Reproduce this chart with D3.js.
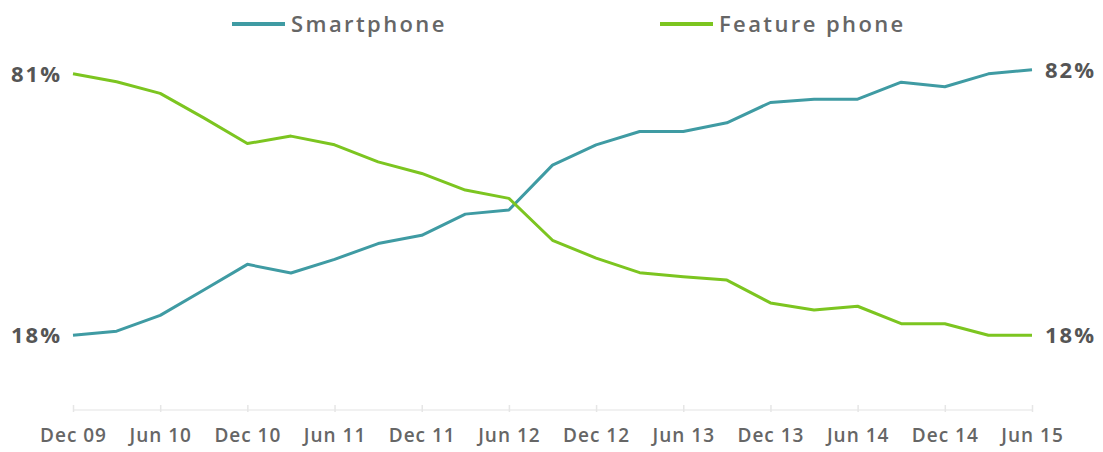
<!DOCTYPE html>
<html>
<head>
<meta charset="utf-8">
<script src="https://cdn.jsdelivr.net/npm/d3@7/dist/d3.min.js"></script>
<style>
  html, body { margin: 0; padding: 0; background: #fff; }
  svg { display: block; }
  text { font-family: "Open Sans", Lato, sans-serif; }
</style>
</head>
<body>
<svg id="chart" width="1103" height="452"></svg>
<script>
// Quarterly share of handsets (%), Dec 2009 – Jun 2015
const quarters = [
  "Dec 09","Mar 10","Jun 10","Sep 10","Dec 10","Mar 11","Jun 11","Sep 11",
  "Dec 11","Mar 12","Jun 12","Sep 12","Dec 12","Mar 13","Jun 13","Sep 13",
  "Dec 13","Mar 14","Jun 14","Sep 14","Dec 14","Mar 15","Jun 15"
];
const smartphone = [
  18, 19.0, 22.8, 28.9, 35.1, 33.0, 36.3, 40.1,
  42.1, 47.2, 48.2, 59.0, 63.9, 67.1, 67.1, 69.2,
  74.1, 74.9, 74.9, 79.0, 77.9, 81.0, 82
];
const featurePhone = [
  81, 79.1, 76.3, 70.4, 64.2, 66.0, 63.9, 59.8,
  57.0, 53.0, 51.0, 40.9, 36.6, 33.1, 32.1, 31.3,
  25.8, 24.1, 25.0, 20.8, 20.8, 18, 18
];
const tickLabels = [
  "Dec 09","Jun 10","Dec 10","Jun 11","Dec 11","Jun 12",
  "Dec 12","Jun 13","Dec 13","Jun 14","Dec 14","Jun 15"
];
const seriesNames = ["Smartphone", "Feature phone"];
const seriesColors = ["#3f9ba3", "#7cc520"];

const svg = d3.select("#chart");

const x = d3.scalePoint().domain(quarters).range([73, 1032]);
const y = d3.scaleLinear().domain([0, 100]).range([410, -5]);

// x axis: faint baseline with half-yearly ticks
const axis = svg.append("g")
  .attr("transform", "translate(0,410)")
  .call(d3.axisBottom(x).tickValues(tickLabels).tickSize(5).tickPadding(17));
axis.select(".domain").attr("stroke", "#ececec").attr("stroke-width", 1.5)
  .attr("d", `M${x(quarters[0])},0H${x(quarters[quarters.length - 1])}`);
axis.selectAll(".tick line").attr("stroke", "#e6e6e6").attr("stroke-width", 1.5)
  .attr("y1", -5).attr("y2", 2);
axis.selectAll(".tick text")
  .attr("fill", "#666")
  .attr("font-size", 19)
  .attr("font-weight", 600)
  .attr("letter-spacing", 1)
  .attr("font-family", "'Open Sans', Lato, sans-serif")
  .attr("dy", "0.55em");

// lines
const line = d3.line()
  .x((d, i) => x(quarters[i]))
  .y(d => y(d));

[smartphone, featurePhone].forEach((vals, k) => {
  svg.append("path")
    .datum(vals)
    .attr("fill", "none")
    .attr("stroke", seriesColors[k])
    .attr("stroke-width", 3)
    .attr("stroke-linejoin", "round")
    .attr("d", line);
});

// end-point value labels
const endLabels = [
  { v: featurePhone[0], side: "left" },
  { v: smartphone[0], side: "left" },
  { v: smartphone[smartphone.length - 1], side: "right" },
  { v: featurePhone[featurePhone.length - 1], side: "right" }
];
svg.append("g").selectAll("text")
  .data(endLabels)
  .join("text")
  .attr("x", d => d.side === "left" ? x(quarters[0]) - 11 : x(quarters[quarters.length - 1]) + 13)
  .attr("y", d => y(d.v))
  .attr("dy", "0.36em")
  .attr("text-anchor", d => d.side === "left" ? "end" : "start")
  .attr("fill", "#555")
  .attr("font-size", 22)
  .attr("font-weight", 700)
  .attr("letter-spacing", 2)
  .text(d => Math.round(d.v) + "%");

// legend
const legendX = [232, 660];
const legend = svg.append("g").selectAll("g")
  .data(seriesNames)
  .join("g")
  .attr("transform", (d, i) => `translate(${legendX[i]},24)`);
legend.append("line")
  .attr("x1", 0).attr("x2", 53)
  .attr("stroke", (d, i) => seriesColors[i])
  .attr("stroke-width", 4);
legend.append("text")
  .attr("x", 59)
  .attr("dy", "0.36em")
  .attr("fill", "#666")
  .attr("font-size", 22)
  .attr("font-weight", 600)
  .attr("letter-spacing", 2.4)
  .text(d => d);
</script>
</body>
</html>
